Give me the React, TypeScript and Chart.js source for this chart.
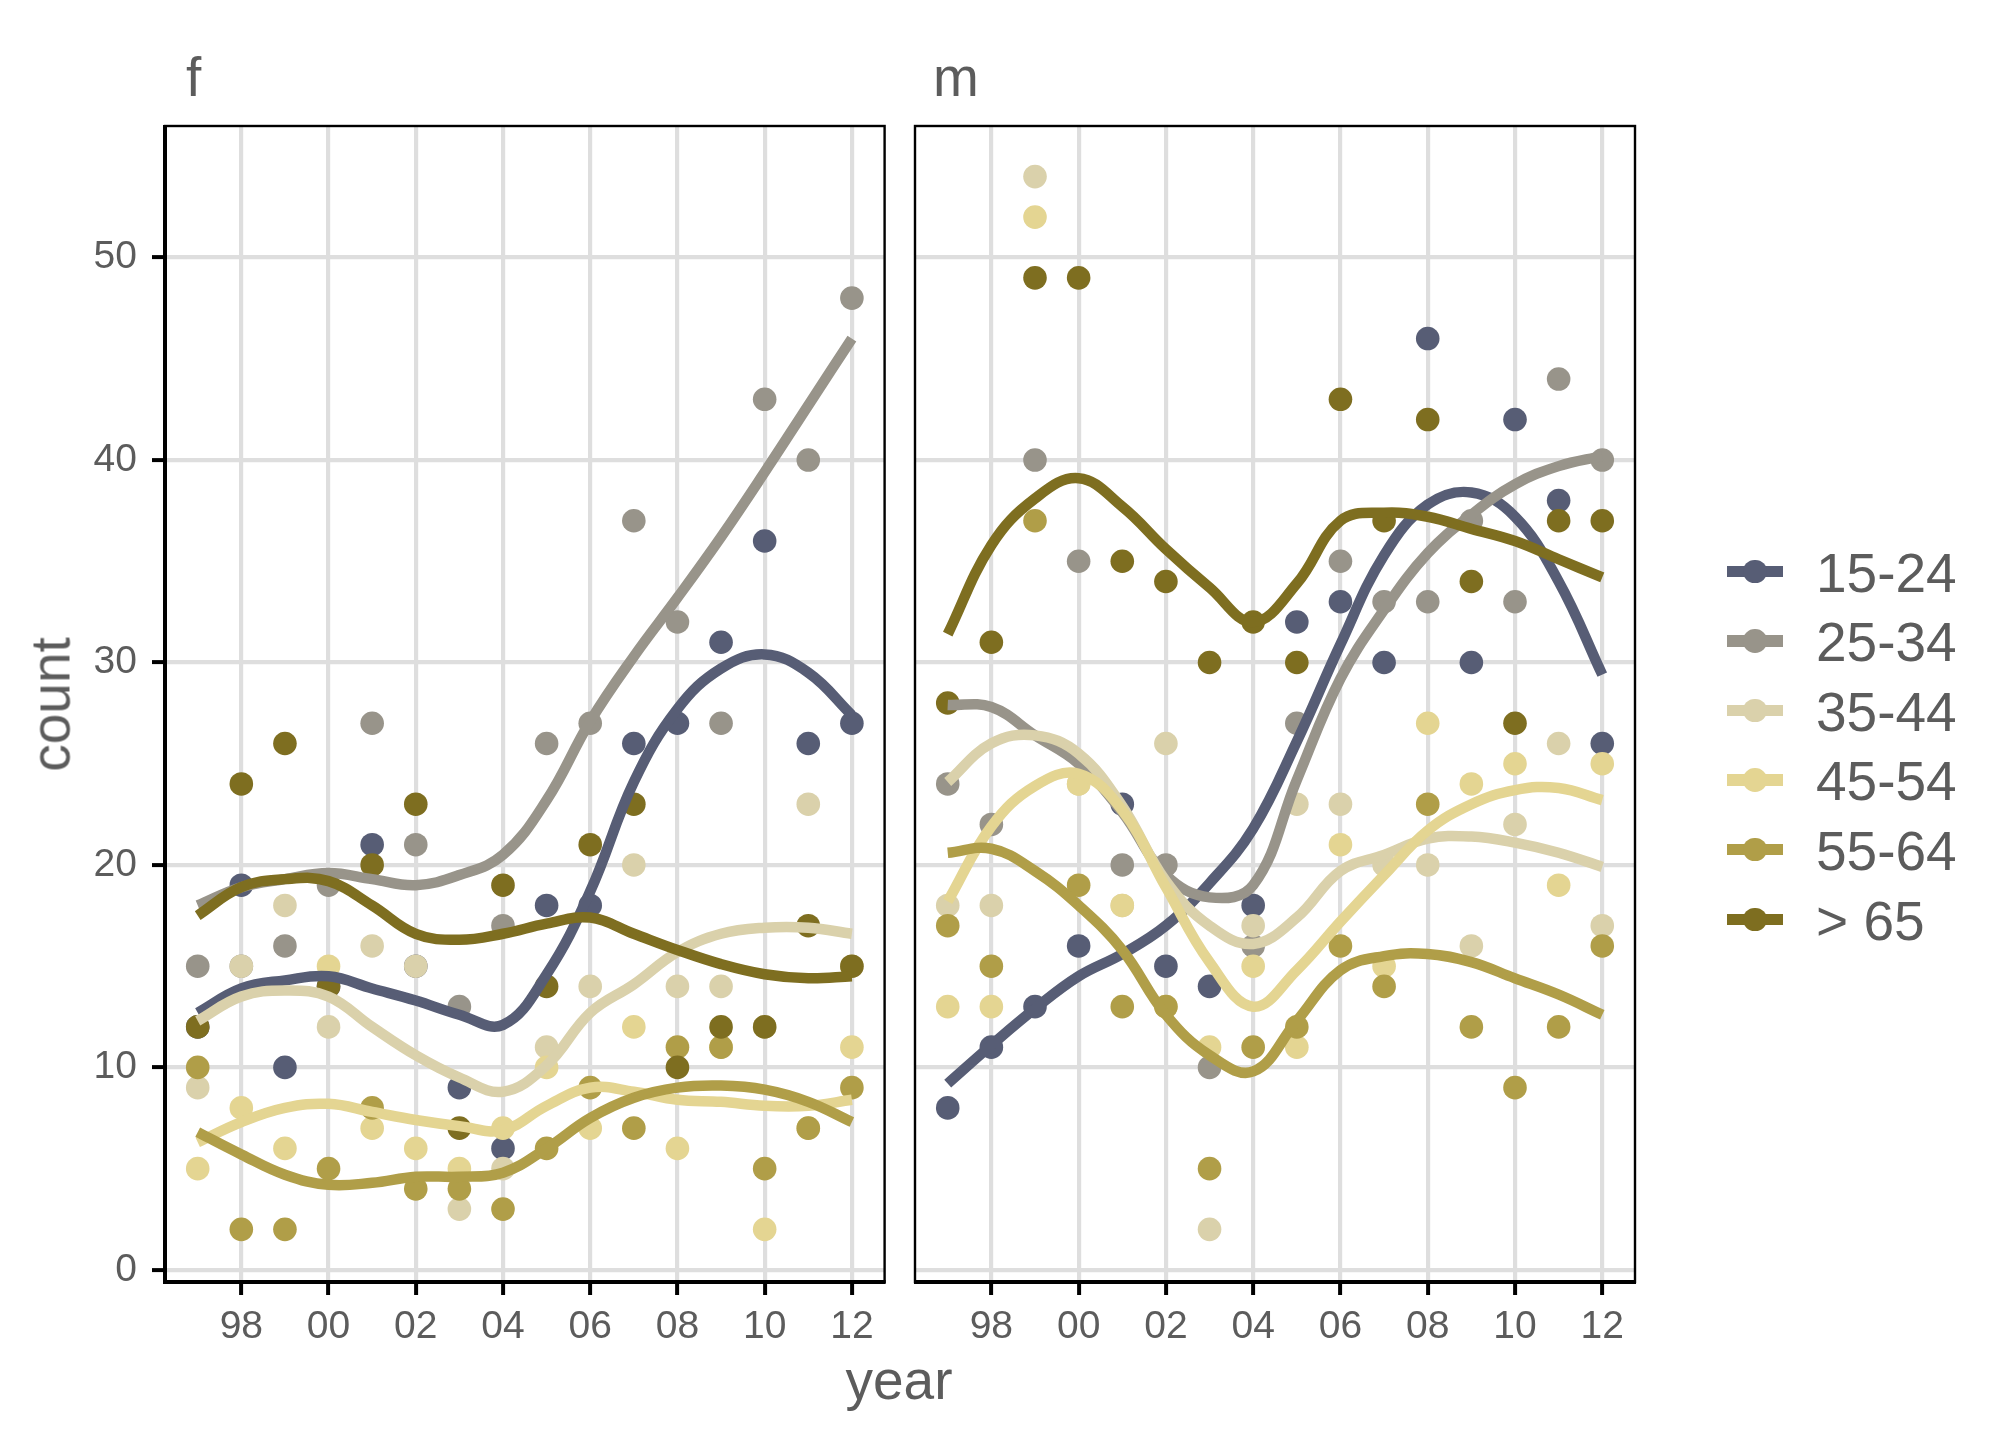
import React, { useEffect, useRef } from "react";
import Chart from "chart.js/auto";

const FONT = "'Liberation Sans', Arial, Helvetica, sans-serif";
const TEXT = "#5c5c5c";

const years = [1997, 1998, 1999, 2000, 2001, 2002, 2003, 2004, 2005, 2006, 2007, 2008, 2009, 2010, 2011, 2012];
const xTicks = [1998, 2000, 2002, 2004, 2006, 2008, 2010, 2012];
const yTicks = [0, 10, 20, 30, 40, 50];
const groups = ["15-24", "25-34", "35-44", "45-54", "55-64", "> 65"];
const colors = ["#575d75", "#98948a", "#dad1ab", "#e4d592", "#b09e48", "#7e6e20"];

// f: observed counts
const f1524 = [12, 19, 10, 14, 21, 15, 9, 6, 18, 18, 26, 27, 31, 36, 26, 27];
const f2534 = [15, 15, 16, 19, 27, 21, 13, 17, 26, 27, 37, 32, 27, 43, 40, 48];
const f3544 = [9, 15, 18, 12, 16, 15, 3, 5, 11, 14, 20, 14, 14, 12, 23, 15];
const f4554 = [5, 8, 6, 15, 7, 6, 5, 7, 10, 7, 12, 6, 11, 2, 7, 11];
const f5564 = [10, 2, 2, 5, 8, 4, 4, 3, 6, 9, 7, 11, 11, 5, 7, 9];
const f65 = [12, 24, 26, 14, 20, 23, 7, 19, 14, 21, 23, 10, 12, 12, 17, 15];

// m: observed counts
const m1524 = [8, 11, 13, 16, 23, 15, 14, 18, 32, 33, 30, 46, 30, 42, 38, 26];
const m2534 = [24, 22, 40, 35, 20, 20, 10, 16, 27, 35, 33, 33, 37, 33, 44, 40];
const m3544 = [18, 18, 54, 24, 18, 26, 2, 17, 23, 23, 20, 20, 16, 22, 26, 17];
const m4554 = [13, 13, 52, 24, 18, 13, 11, 15, 11, 21, 15, 27, 24, 25, 19, 25];
const m5564 = [17, 15, 37, 19, 13, 13, 5, 11, 12, 16, 14, 23, 12, 9, 12, 16];
const m65 = [28, 31, 49, 49, 35, 34, 30, 32, 30, 43, 37, 42, 34, 27, 37, 37];

// smoothed curves, one value per year
const fs1524 = [12.7, 13.9, 14.3, 14.5, 13.9, 13.3, 12.6, 12.1, 14.6, 18.7, 24.1, 27.7, 29.7, 30.4, 29.5, 27.4];
const fs2534 = [18.0, 18.9, 19.3, 19.6, 19.3, 19.0, 19.5, 20.5, 23.2, 27.1, 30.3, 33.2, 36.2, 39.4, 42.7, 46.0];
const fs3544 = [12.3, 13.5, 13.8, 13.5, 12.0, 10.6, 9.5, 8.8, 10.1, 12.7, 14.1, 15.7, 16.6, 16.9, 16.9, 16.6];
const fs4554 = [6.3, 7.3, 8.0, 8.2, 7.8, 7.4, 7.1, 6.9, 8.1, 9.0, 8.8, 8.4, 8.3, 8.1, 8.1, 8.4];
const fs5564 = [6.8, 5.7, 4.7, 4.2, 4.3, 4.6, 4.6, 4.8, 6.0, 7.5, 8.5, 9.0, 9.1, 8.9, 8.3, 7.3];
const fs65 = [17.5, 18.9, 19.3, 19.2, 18.0, 16.6, 16.3, 16.6, 17.1, 17.4, 16.6, 15.8, 15.1, 14.6, 14.4, 14.5];

const ms1524 = [9.2, 11.1, 12.9, 14.5, 15.6, 17.0, 19.1, 21.8, 26.1, 30.9, 35.3, 37.8, 38.4, 37.2, 34.0, 29.4];
const ms2534 = [27.9, 27.8, 26.4, 25.0, 22.6, 19.5, 18.4, 19.0, 24.2, 29.2, 32.6, 35.4, 37.3, 38.8, 39.7, 40.2];
const ms3544 = [24.1, 26.0, 26.4, 25.5, 22.9, 19.2, 17.0, 16.1, 17.4, 19.7, 20.5, 21.3, 21.4, 21.1, 20.6, 19.9];
const ms4554 = [18.2, 21.9, 23.9, 24.5, 22.7, 18.9, 15.2, 13.0, 14.8, 17.2, 19.5, 21.7, 23.0, 23.7, 23.8, 23.2];
const ms5564 = [20.6, 20.8, 19.7, 18.0, 15.8, 12.6, 10.6, 9.8, 12.3, 14.8, 15.5, 15.6, 15.2, 14.4, 13.6, 12.6];
const ms65 = [31.4, 35.8, 38.1, 39.1, 37.7, 35.6, 33.7, 32.0, 33.9, 37.0, 37.4, 37.2, 36.6, 36.0, 35.1, 34.2];

const fPoints = [f1524, f2534, f3544, f4554, f5564, f65];
const fSmooth = [fs1524, fs2534, fs3544, fs4554, fs5564, fs65];
const mPoints = [m1524, m2534, m3544, m4554, m5564, m65];
const mSmooth = [ms1524, ms2534, ms3544, ms4554, ms5564, ms65];

const panelBox = {
  id: "panelBox",
  afterDatasetsDraw(chart: any, _args: any, opts: any) {
    const { ctx, chartArea: a } = chart;
    ctx.save();
    ctx.strokeStyle = "#000";
    ctx.lineWidth = 2.4;
    ctx.strokeRect(a.left, a.top, a.right - a.left, a.bottom - a.top);
    ctx.lineWidth = 4;
    ctx.beginPath();
    ctx.moveTo(a.left - (opts.leftAxis ? 2 : 1), a.bottom);
    ctx.lineTo(a.right + 1, a.bottom);
    if (opts.leftAxis) {
      ctx.moveTo(a.left, a.top - 1);
      ctx.lineTo(a.left, a.bottom);
    }
    ctx.stroke();
    ctx.restore();
  },
};

function toXY(values: number[]) {
  return years.map((x, i) => ({ x, y: values[i] }));
}

function Panel({ points, smooth, left, width, leftAxis, padRight }: any) {
  const ref = useRef<HTMLCanvasElement>(null);

  useEffect(() => {
    const datasets: any[] = [];
    points.forEach((vals: number[], i: number) => {
      datasets.push({
        type: "scatter",
        label: groups[i],
        data: toXY(vals),
        backgroundColor: colors[i],
        borderColor: colors[i],
        pointRadius: 11.8,
        pointBorderWidth: 0,
        order: 20 + (5 - i),
      });
    });
    smooth.forEach((vals: number[], i: number) => {
      datasets.push({
        type: "line",
        label: groups[i] + " smooth",
        data: toXY(vals),
        borderColor: colors[i],
        borderWidth: 10.5,
        borderCapStyle: "butt",
        pointRadius: 0,
        tension: 0.4,
        fill: false,
        order: 5 - i,
      });
    });

    const chart = new Chart(ref.current!, {
      type: "scatter",
      data: { datasets },
      plugins: [panelBox],
      options: {
        animation: false,
        responsive: false,
        devicePixelRatio: 1,
        events: [],
        layout: { padding: { top: 126, right: padRight, left: 0, bottom: 0 } },
        plugins: {
          legend: { display: false },
          tooltip: { enabled: false },
          panelBox: { leftAxis },
        } as any,
        scales: {
          x: {
            type: "linear",
            min: 1996.25,
            max: 2012.75,
            afterBuildTicks: (s: any) => {
              s.ticks = xTicks.map((v) => ({ value: v }));
            },
            afterFit: (s: any) => {
              s.height = 158;
            },
            ticks: {
              callback: (v: any) => String(v).slice(2),
              font: { family: FONT, size: 39 },
              color: TEXT,
              padding: 9,
              maxRotation: 0,
              autoSkip: false,
            },
            grid: {
              color: "#dedede",
              lineWidth: 4.2,
              tickColor: "#000",
              tickWidth: 4,
              tickLength: 13,
            },
            border: { display: false },
          },
          y: {
            type: "linear",
            min: -0.6,
            max: 56.5,
            afterBuildTicks: (s: any) => {
              s.ticks = yTicks.map((v) => ({ value: v }));
            },
            afterFit: (s: any) => {
              s.width = leftAxis ? 165 : 15;
            },
            ticks: {
              display: leftAxis,
              font: { family: FONT, size: 39 },
              color: TEXT,
              padding: 15,
            },
            grid: {
              color: "#dedede",
              lineWidth: 4.2,
              drawTicks: leftAxis,
              tickColor: "#000",
              tickWidth: 4,
              tickLength: 13,
            },
            border: { display: false },
          },
        },
      },
    });
    return () => chart.destroy();
  }, []);

  return (
    <canvas
      ref={ref}
      width={width}
      height={1440}
      style={{ position: "absolute", left, top: 0, width, height: 1440 }}
    />
  );
}

const legendTop = 571.3;
const legendStep = 69.6;

function Legend() {
  return (
    <>
      {groups.map((g, i) => {
        const cy = legendTop + i * legendStep;
        return (
          <React.Fragment key={g}>
            <div
              style={{
                position: "absolute",
                left: 1727,
                top: cy - 5.8,
                width: 55.5,
                height: 11.6,
                background: colors[i],
              }}
            />
            <div
              style={{
                position: "absolute",
                left: 1755 - 11.8,
                top: cy - 11.8,
                width: 23.6,
                height: 23.6,
                borderRadius: "50%",
                background: colors[i],
              }}
            />
            <div
              style={{
                position: "absolute",
                left: 1816,
                top: cy + 20.7 - 46.5,
                fontSize: 55,
                lineHeight: "55px",
                color: TEXT,
                whiteSpace: "nowrap",
              }}
            >
              {g}
            </div>
          </React.Fragment>
        );
      })}
    </>
  );
}

export default function App() {
  return (
    <div
      style={{
        position: "absolute",
        left: 0,
        top: 0,
        width: 2016,
        height: 1440,
        overflow: "hidden",
        background: "#fff",
        fontFamily: FONT,
      }}
    >
      <Panel points={fPoints} smooth={fSmooth} left={0} width={900} leftAxis={true} padRight={15.4} />
      <Panel points={mPoints} smooth={mSmooth} left={900} width={750} leftAxis={false} padRight={15} />

      <div style={{ position: "absolute", left: 186, top: 50.4, fontSize: 55, lineHeight: "55px", color: TEXT }}>f</div>
      <div style={{ position: "absolute", left: 933, top: 50.4, fontSize: 55, lineHeight: "55px", color: TEXT }}>m</div>

      <div
        style={{
          position: "absolute",
          left: 699,
          top: 1353.4,
          width: 400,
          textAlign: "center",
          fontSize: 55,
          lineHeight: "55px",
          color: TEXT,
        }}
      >
        year
      </div>
      <div
        style={{
          position: "absolute",
          left: 51 - 150,
          top: 704.5 - 27.5,
          width: 300,
          height: 55,
          textAlign: "center",
          fontSize: 55,
          lineHeight: "55px",
          color: TEXT,
          transform: "rotate(-90deg)",
          transformOrigin: "center",
        }}
      >
        count
      </div>

      <Legend />
    </div>
  );
}
